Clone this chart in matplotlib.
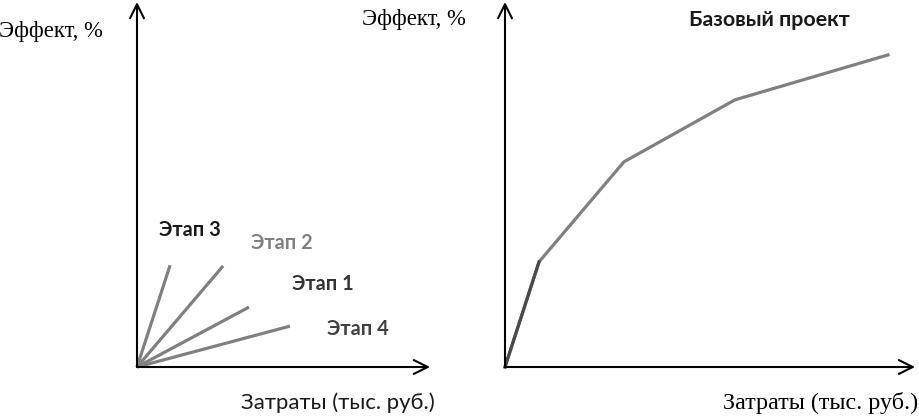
#!/usr/bin/env python3

import matplotlib.pyplot as plt
import numpy as np

# стадии проекта: конечные точки отрезков из начала координат
stages = ['Этап 3', 'Этап 2', 'Этап 1', 'Этап 4']
stage_cost = np.array([1.13, 2.94, 3.82, 5.22])
stage_effect = np.array([2.79, 2.77, 1.64, 1.12])

# базовый проект
base_cost = np.array([0, 0.83, 2.90, 5.61, 9.34])
base_effect = np.array([0, 2.88, 5.62, 7.32, 8.55])

xlabel = 'Затраты (тыс. руб.)'
ylabel = 'Эффект, %'

line_col = '#808080'
label_pos = [(1.81, 3.75), (4.95, 3.40), (6.35, 2.27), (7.54, 1.04)]
label_col = ['#1a1a1a', '#808080', '#333333', '#404040']

fig = plt.figure(figsize=(9.19, 4.17), dpi=100)
ax1 = fig.add_axes([137/919, 50/417, 293/919, 365/417])
ax2 = fig.add_axes([505/919, 50/417, 410/919, 365/417])

arrow = dict(arrowstyle='->,head_length=0.5,head_width=0.25', lw=1.5,
             color='black', mutation_scale=20, shrinkA=0, shrinkB=0)

for ax in (ax1, ax2):
    ax.set_xlim(0, 10)
    ax.set_ylim(0, 10)
    ax.axis('off')
    ax.annotate('', xy=(1, 0), xytext=(0, 0), xycoords='axes fraction',
                arrowprops=arrow)
    ax.annotate('', xy=(0, 1), xytext=(0, 0), xycoords='axes fraction',
                arrowprops=arrow)

for c, e, name, pos, col in zip(stage_cost, stage_effect, stages,
                                label_pos, label_col):
    ax1.plot([0, c], [0, e], color=line_col, lw=2.3, clip_on=False,
             solid_capstyle='butt')
    ax1.text(pos[0], pos[1], name, color=col, family='Lato',
             fontweight='bold', fontsize=14.4, ha='center', va='center')

ax2.plot(base_cost, base_effect, color=line_col, lw=2.3, clip_on=False)
# первый участок в оригинале темнее
ax2.plot(base_cost[:2], base_effect[:2], color='#4a4a4a', lw=2.3,
         clip_on=False)
fig.text(769/919, 1 - 20/417, 'Базовый проект', family='Lato',
         fontweight='bold', fontsize=15.4, ha='center', va='center',
         color='#1a1a1a')

# подписи осей
fig.text(-1/919, 1 - 32/417, ylabel, family='Liberation Serif',
         fontsize=16.4, ha='left', va='center')
fig.text(362/919, 1 - 20/417, ylabel, family='Liberation Serif',
         fontsize=16.4, ha='left', va='center')
fig.text(435/919, 1 - 403/417, xlabel, family='Lato',
         fontsize=15.9, ha='right', va='center', color='#1a1a1a')
fig.text(918/919, 1 - 403/417, xlabel, family='Liberation Serif',
         fontsize=17.4, ha='right', va='center')

plt.savefig('out.png', dpi=100)
